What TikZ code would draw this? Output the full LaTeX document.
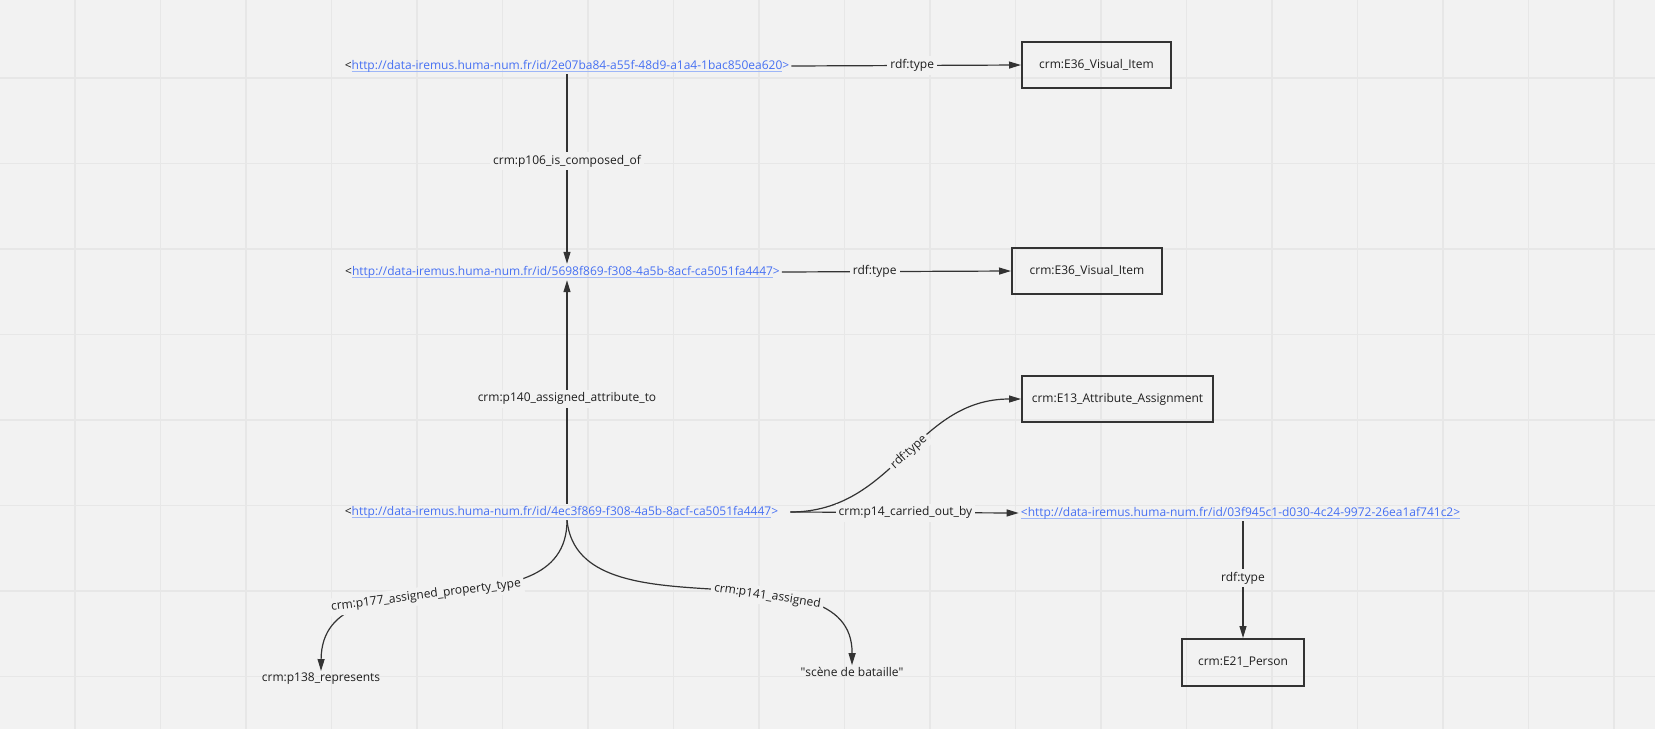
\documentclass[tikz,border=0pt]{standalone}
\usepackage{fontspec}
\setmainfont{Open Sans}
\usetikzlibrary{arrows.meta}
\definecolor{bg}{HTML}{F2F2F2}
\definecolor{gridc}{HTML}{E7E7E7}
\definecolor{lnkc}{HTML}{4670F2}
\definecolor{ulc}{HTML}{9DB6F7}
\definecolor{linec}{HTML}{333333}
\definecolor{txtc}{HTML}{1E1E1E}
\newcommand\lnk[1]{\setbox0\hbox{\color{lnkc}#1}\rlap{\color{ulc}\rule[-2.5pt]{\wd0}{0.9pt}}\box0}
\begin{document}
\begin{tikzpicture}[x=1pt,y=-1pt,font=\fontsize{12}{14}\selectfont,text=txtc,
  uri/.style={inner sep=2pt},
  cls/.style={draw=linec,line width=2pt,minimum height=46pt,inner sep=0pt},
  arr/.style={draw=linec,line width=1.2pt,-{Triangle[length=12pt,width=7pt]}},
  lbl/.style={fill=bg,inner sep=3pt},
  gridline/.style={draw=gridc,line width=1.5pt}]
\fill[bg] (0,0) rectangle (1655,729);
\useasboundingbox (0,0) rectangle (1655,729);
\foreach \i in {0,...,18} \draw[gridline] ({75+85.5*\i},0) -- ({75+85.5*\i},729);
\foreach \j in {0,...,7} \draw[gridline] (0,{78+85.5*\j}) -- (1655,{78+85.5*\j});

% URI nodes
\node[uri] (n1) at (567,66) {<\lnk{http://data-iremus.huma-num.fr/id/2e07ba84-a55f-48d9-a1a4-1bac850ea620}>};
\node[uri] (n2) at (562.5,272) {<\lnk{http://data-iremus.huma-num.fr/id/5698f869-f308-4a5b-8acf-ca5051fa4447}>};
\node[uri] (n3) at (561.5,512) {<\lnk{http://data-iremus.huma-num.fr/id/4ec3f869-f308-4a5b-8acf-ca5051fa4447}>};
\node[uri] (n4) at (1240.5,513) {\lnk{<http://data-iremus.huma-num.fr/id/03f945c1-d030-4c24-9972-26ea1af741c2>}};

% class boxes
\node[cls,minimum width=149pt] (b1) at (1096.5,65) {crm:E36\_Visual\_Item};
\node[cls,minimum width=150pt] (b2) at (1087,271) {crm:E36\_Visual\_Item};
\node[cls,minimum width=191pt] (b3) at (1117.5,399) {crm:E13\_Attribute\_Assignment};
\node[cls,minimum width=122pt,minimum height=47pt] (b4) at (1243,662.5) {crm:E21\_Person};

% literal / property targets
\node[uri] (t1) at (321,679) {crm:p138\_represents};
\node[uri] (t2) at (852,672) {\textquotedbl scène de bataille\textquotedbl};

% edges
\draw[arr] (n1.east) -- node[lbl,pos=0.526]{rdf:type} (b1.west);
\draw[arr] (n2.east) -- node[lbl,pos=0.405]{rdf:type} (b2.west);
\draw[arr] (n1.south) -- node[lbl,pos=0.457]{crm:p106\_is\_composed\_of} (n1.south |- n2.north);
\draw[arr] (n1.south |- n3.north) -- node[lbl,pos=0.47]{crm:p140\_assigned\_attribute\_to} (n1.south |- n2.south);
\draw[arr] ([xshift=10pt]n3.east) .. controls (895,512) and (915,399) .. (b3.west) node[lbl,sloped,pos=0.52]{rdf:type};
\draw[arr] ([xshift=10pt]n3.east) -- node[lbl,pos=0.504]{crm:p14\_carried\_out\_by} (n4.west);
\draw[arr] (b4.north |- n4.south) -- node[lbl,pos=0.49]{rdf:type} (b4.north);
\draw[arr] (n1.south |- n3.south) .. controls (567,640) and (322,545) .. (t1.north) node[lbl,sloped,pos=0.55]{crm:p177\_assigned\_property\_type};
\draw[arr] (n1.south |- n3.south) .. controls (579,640) and (853,540) .. (t2.north) node[lbl,sloped,pos=0.63]{crm:p141\_assigned};
\end{tikzpicture}
\end{document}
